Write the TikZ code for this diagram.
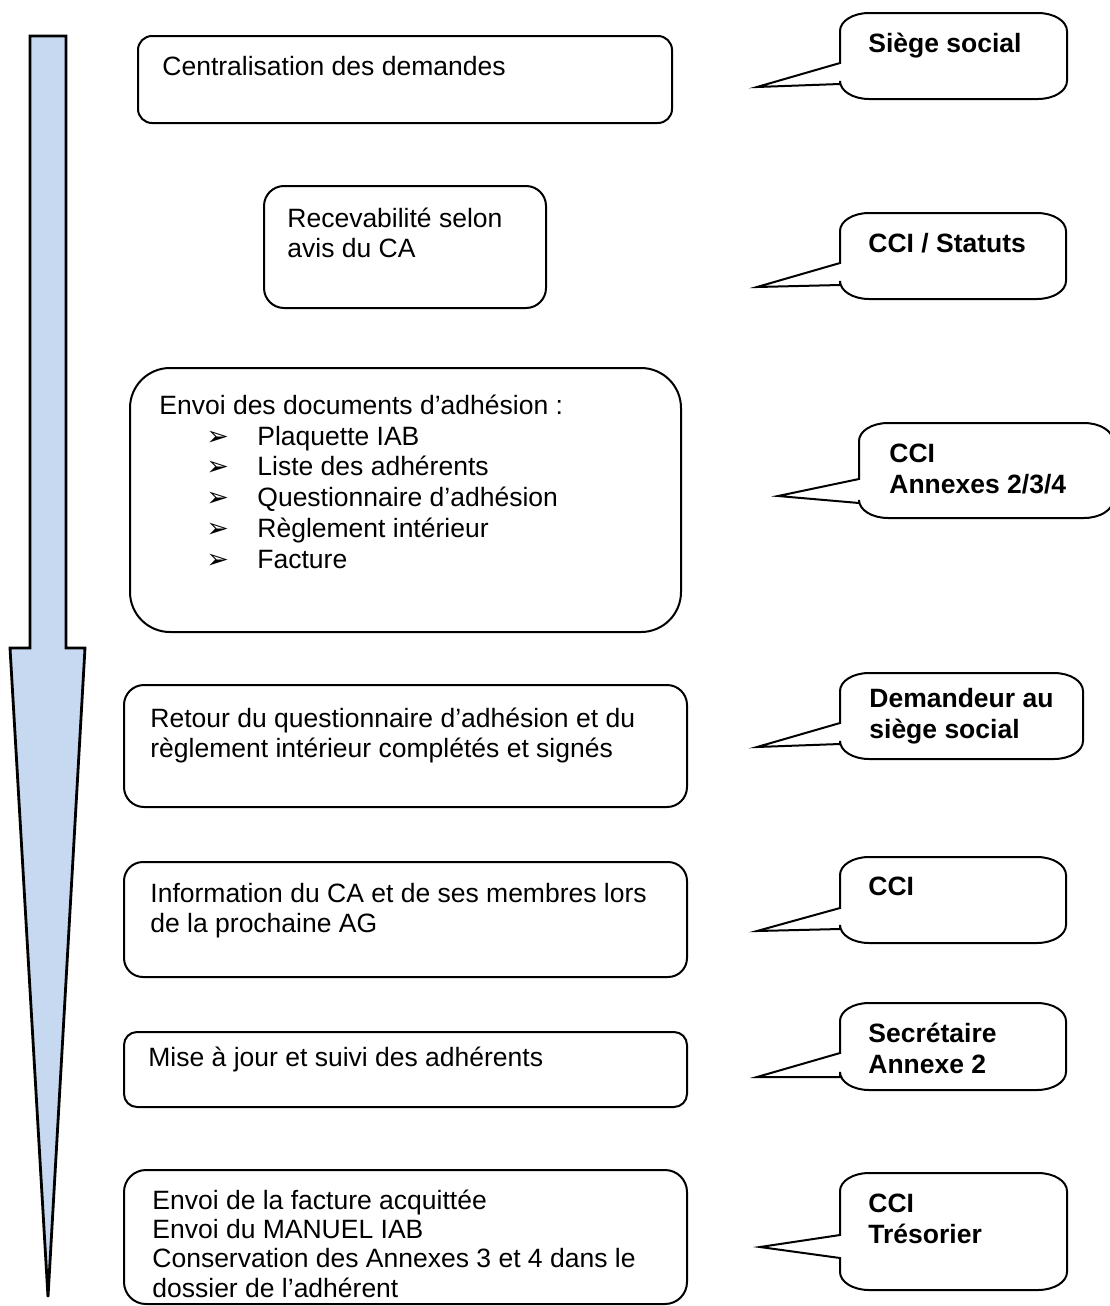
\documentclass[tikz,border=0pt]{standalone}
\usepackage{fontspec}
\setmainfont{Liberation Sans}
\newfontfamily\dejavu{DejaVu Sans}
\definecolor{arrowblue}{RGB}{198,217,241}
\tikzset{
  arrowshape/.style={fill=arrowblue, draw=black, line width=1.4pt, line join=miter},
  box/.style={draw=black, line width=1pt},
  calloutshape/.style={draw=black, line width=1pt, fill=white, line join=miter},
  txt/.style={anchor=base west, inner sep=0pt, font=\fontsize{13.25pt}{15.4pt}\selectfont},
  txtb/.style={anchor=base west, inner sep=0pt, font=\fontsize{13.25pt}{14.7pt}\selectfont},
  btxt/.style={anchor=base west, inner sep=0pt, font=\fontsize{13.25pt}{15.6pt}\selectfont\bfseries},
}
\newcommand\mylines[1]{\begin{tabular}[t]{@{}l@{}}#1\end{tabular}}
\newcommand\mybullet{\makebox[25.5pt][l]{\raisebox{0pt}{\dejavu\bfseries\fontsize{13.5pt}{13.5pt}\selectfont ➢}}}
% L T R B pb1 pb2 tipx tipy
\newcommand\mycallout[8]{%
  \draw[calloutshape] (#1,#5) -- (#1,#2+18)
    arc[start angle=180,end angle=270,x radius=29,y radius=18] -- (#3-29,#2)
    arc[start angle=270,end angle=360,x radius=29,y radius=18] -- (#3,#4-18)
    arc[start angle=0,end angle=90,x radius=29,y radius=18] -- (#1+29,#4)
    arc[start angle=90,end angle=180,x radius=29,y radius=18] -- (#1,#6)
    -- (#7,#8) -- cycle;}
\begin{document}
\begin{tikzpicture}[x=0.5pt,y=-0.5pt]
\useasboundingbox (0,0) rectangle (1109,1306);
% big downward arrow
\draw[arrowshape] (30,36) -- (66,36) -- (66,648) -- (85,648) -- (48,1297) -- (10,648) -- (30,648) -- cycle;

% process boxes
\draw[box, rounded corners=7pt]  (138,36) rectangle (672,123);
\draw[box, rounded corners=10pt] (264,186) rectangle (546,308);
\draw[box, rounded corners=20pt] (130,368) rectangle (681,632);
\draw[box, rounded corners=10pt] (124,685) rectangle (687,807);
\draw[box, rounded corners=9.5pt] (124,862) rectangle (687,977);
\draw[box, rounded corners=6.5pt] (124,1032) rectangle (687,1107);
\draw[box, rounded corners=11pt] (124,1170) rectangle (687,1304);

\node[txt] (t1) at (162,75) {Centralisation des demandes};
\node[txt] (t2) at (287,227) {\mylines{Recevabilité selon\\avis du CA}};
\node[txt] (t3) at (159,414) {Envoi des documents d’adhésion :};
\node[txt] (t3b) at (206,445) {\mylines{\mybullet Plaquette IAB\\\mybullet Liste des adhérents\\\mybullet Questionnaire d’adhésion\\\mybullet Règlement intérieur\\\mybullet Facture}};
\node[txt] (t4) at (150,727) {\mylines{Retour du questionnaire d’adhésion et du\\règlement intérieur complétés et signés}};
\node[txt] (t5) at (150,902) {\mylines{Information du CA et de ses membres lors\\de la prochaine AG}};
\node[txt] (t6) at (148,1066) {Mise à jour et suivi des adhérents};
\node[txtb] (t7) at (152,1209) {\mylines{Envoi de la facture acquittée\\Envoi du MANUEL IAB\\Conservation des Annexes 3 et 4 dans le\\dossier de l’adhérent}};

% callouts
\mycallout{840}{13}{1067}{99}{63}{84}{757}{87}
\mycallout{840}{213}{1066}{299}{263}{285}{757}{287}
\mycallout{859}{423}{1113}{518}{479}{503}{778}{496}
\mycallout{840}{673}{1083}{759}{723}{744}{757}{747}
\mycallout{840}{857}{1066}{943}{908}{929}{757}{931}
\mycallout{840}{1003}{1066}{1090}{1053}{1077}{757}{1077}
\mycallout{840}{1173}{1067}{1290}{1235}{1258}{760}{1247}

\node[btxt] (c1) at (868,52) {Siège social};
\node[btxt] (c2) at (868,252) {CCI / Statuts};
\node[btxt] (c3) at (889,462) {\mylines{CCI\\Annexes 2/3/4}};
\begin{scope}
  \clip (840,660) rectangle (1090,746);
  \node[btxt] (c4) at (869,707) {\mylines{Demandeur au\\siège social}};
\end{scope}
\node[btxt] (c5) at (868,895) {CCI};
\node[btxt] (c6) at (868,1042) {\mylines{Secrétaire\\Annexe 2}};
\node[btxt] (c7) at (868,1212) {\mylines{CCI\\Trésorier}};
\end{tikzpicture}
\end{document}
